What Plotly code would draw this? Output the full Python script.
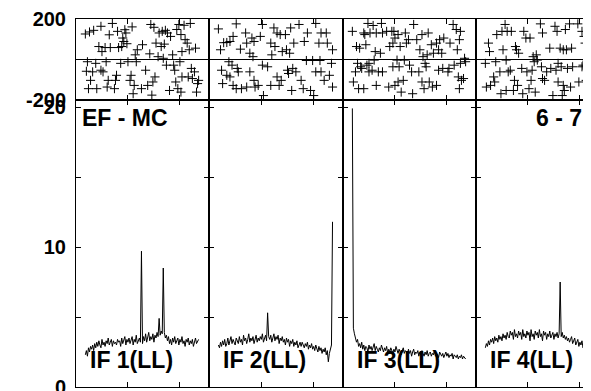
import plotly.graph_objects as go

# ---------------- data ----------------
CHANNELS = list(range(9, 119))  # channel numbers of the amplitude spectra

AMP_IF1 = [
    2.3, 2.6, 2.2, 2.8, 2.5, 2.9, 2.7, 3.0, 2.6, 3.1,
    2.8, 3.2, 2.9, 3.3, 3.0, 2.8, 3.4, 3.0, 3.2, 2.9,
    3.3, 3.1, 3.5, 3.0, 3.2, 3.4, 2.9, 3.3, 3.1, 3.2,
    3.0, 3.4, 3.2, 3.3, 2.9, 3.5, 3.1, 3.3, 3.6, 3.0,
    3.4, 3.2, 3.5, 3.1, 3.3, 3.6, 3.0, 3.4, 3.2, 3.7,
    3.1, 3.3, 3.5, 3.2, 9.7, 3.1, 3.6, 3.3, 3.8, 3.2,
    3.5, 3.9, 3.3, 3.6, 3.4, 3.8, 3.2, 3.7, 3.5, 3.9,
    3.6, 4.9, 3.7, 4.0, 3.8, 8.5, 3.9, 3.5, 3.7, 3.3,
    3.6, 3.1, 3.4, 3.0, 3.5, 3.2, 3.6, 3.1, 3.3, 3.5,
    3.0, 3.4, 3.2, 3.6, 3.1, 3.3, 2.9, 3.4, 3.2, 3.5,
    3.0, 3.3, 3.1, 3.4, 2.9, 3.2, 3.5, 3.1, 3.3, 3.4,
]
AMP_IF2 = [
    3.0, 2.8, 3.2, 2.9, 3.3, 3.0, 3.4, 2.9, 3.1, 3.5,
    3.0, 3.3, 3.6, 3.1, 3.4, 3.2, 3.0, 3.5, 3.3, 3.1,
    3.6, 3.2, 3.4, 3.0, 3.7, 3.3, 3.5, 3.1, 3.4, 3.8,
    3.2, 3.5, 3.3, 3.6, 3.1, 3.4, 3.7, 3.2, 3.5, 3.3,
    3.6, 3.4, 3.8, 3.2, 3.5, 3.7, 3.3, 5.3, 3.6, 3.4,
    3.7, 3.2, 3.5, 3.8, 3.3, 3.6, 3.4, 3.7, 3.1, 3.5,
    3.3, 3.6, 3.2, 3.4, 3.0, 3.5, 3.2, 3.4, 2.9, 3.3,
    3.1, 3.4, 2.9, 3.2, 3.0, 3.3, 2.8, 3.1, 3.2, 2.9,
    3.2, 3.0, 2.8, 3.1, 2.9, 3.2, 2.7, 3.0, 2.8, 3.1,
    2.7, 2.9, 2.6, 3.0, 2.7, 2.5, 2.9, 2.6, 2.8, 2.4,
    2.7, 2.5, 2.8, 2.3, 2.6, 1.8, 2.4, 2.7, 3.0, 11.8,
]
AMP_IF3 = [
    19.9, 4.2, 3.8, 3.5, 3.2, 3.4, 2.9, 3.1, 2.8, 3.2,
    2.7, 3.0, 2.6, 2.9, 2.8, 2.5, 3.0, 2.7, 2.9, 2.6,
    2.8, 3.1, 2.6, 2.9, 2.7, 2.5, 2.8, 2.6, 3.0, 2.7,
    2.5, 2.8, 2.6, 2.9, 2.4, 2.7, 2.5, 2.8, 2.6, 2.4,
    2.7, 2.5, 2.9, 2.6, 2.4, 2.7, 2.5, 2.3, 2.6, 2.8,
    2.4, 2.6, 2.5, 2.3, 2.7, 2.4, 2.6, 2.2, 2.5, 2.7,
    2.3, 2.5, 2.4, 2.6, 2.2, 2.5, 2.3, 2.6, 2.4, 2.2,
    2.5, 2.3, 2.6, 2.2, 2.4, 2.5, 2.2, 2.4, 2.3, 2.6,
    2.2, 2.4, 2.3, 2.1, 2.5, 2.3, 2.2, 2.4, 2.1, 2.3,
    2.5, 2.2, 2.4, 2.1, 2.3, 2.2, 2.4, 2.0, 2.3, 2.2,
    2.1, 2.3, 2.0, 2.2, 2.1, 2.3, 2.0, 2.2, 2.1, 2.0,
]
AMP_IF4 = [
    2.8, 3.1, 2.9, 3.3, 3.0, 3.4, 3.2, 3.5, 3.1, 3.6,
    3.3, 3.5, 3.2, 3.7, 3.4, 3.6, 3.3, 3.8, 3.5, 3.7,
    3.4, 3.9, 3.6, 3.5, 4.0, 3.7, 3.9, 3.4, 4.1, 3.6,
    3.8, 3.5, 4.0, 3.7, 3.9, 3.4, 4.1, 3.6, 3.8, 3.5,
    4.0, 3.7, 3.9, 3.3, 4.1, 3.6, 3.8, 3.4, 4.0, 3.7,
    3.9, 3.5, 4.1, 3.6, 3.8, 3.3, 4.0, 3.7, 3.9, 3.4,
    3.8, 3.6, 4.0, 3.5, 3.7, 3.9, 3.4, 3.8, 3.6, 3.9,
    3.5, 3.8, 7.5, 3.6, 3.9, 3.5, 3.7, 3.4, 3.6, 3.3,
    3.5, 3.2, 3.4, 3.6, 3.1, 3.3, 3.5, 3.0, 3.2, 3.4,
    2.9, 3.2, 3.0, 3.3, 2.8, 3.1, 2.9, 3.2, 2.7, 3.0,
    2.8, 3.1, 2.9, 2.7, 3.0, 2.8, 2.6, 2.9, 2.7, 2.8,
]

PH_IF1_CH = [9, 13, 17, 24, 35, 32, 40, 47, 48, 54, 45, 46, 22, 28, 33, 41, 44, 25, 49, 64,
             59, 57, 72, 75, 80, 83, 86, 88, 91, 85, 77, 82, 71, 99, 104, 110, 97, 101, 105, 107,
             109, 115, 102, 93, 79, 84,
             11, 19, 29, 10, 16, 24, 26, 14, 12, 20, 30, 37, 38, 31, 39, 43, 50, 58, 53, 52,
             56, 55, 63, 67, 69, 74, 76, 73, 87, 94, 100, 95, 102, 96, 98, 101, 90, 111, 114, 112,
             118, 117, 116, 108]
PH_IF1 = [126, 136, 144, 164, 178, 122, 139, 147, 131, 161, 106, 89, 64, 59, 59, 59, 64, 39, 78, 73,
          48, 23, 173, 159, 131, 139, 144, 131, 114, 76, 81, 64, 28, 173, 169, 178, 148, 123, 98, 81,
          48, 56, 39, 23, 14, 6,
          -11, -19, -11, -58, -61, -53, -61, -103, -144, -144, -136, -144, -103, -103, -78, -19, -11, -11, -78, -103,
          -128, -169, -144, -53, -128, -111, -86, -176, -28, -28, -11, -53, -86, -111, -144, -161, -153, -44, -61, -94,
          -103, -119, -161, -86]

PH_IF2_CH = [9, 26, 23, 14, 17, 20, 11, 30, 35, 36, 41, 43, 39, 42, 51, 49, 59, 62, 65, 68,
             63, 73, 78, 86, 81, 74, 77, 91, 94, 102, 107, 112, 105, 113, 118, 60, 70,
             19, 22, 12, 17, 20, 27, 28, 13, 23, 26, 31, 39, 43, 36, 44, 47, 51, 56, 52, 59,
             67, 69, 65, 75, 76, 80, 83, 79, 88, 90, 97, 100, 93, 99, 106, 102, 107, 115, 117,
             118, 110]
PH_IF2 = [151, 176, 114, 83, 84, 89, 48, 51, 131, 81, 106, 89, 31, 14, 173, 114, 81, 156, 131, 123,
          64, 123, 156, 173, 81, 48, 31, 89, 131, 178, 131, 131, 81, 81, 48, 23, 39,
          -11, -28, -53, -78, -86, -44, -61, -119, -128, -144, -144, -61, -103, -136, -136, -128, -28, -36, -178, -128,
          -128, -103, -86, -53, -69, -44, -61, -153, -103, -144, -153, -178, -5, -5, -5, -61, -61, -78, -19,
          -136, -103]

PH_IF3_CH = [9, 24, 29, 37, 20, 21, 26, 32, 38, 42, 13, 16, 22, 31, 36, 47, 50, 48, 45,
             49, 53, 60, 68, 76, 82, 63, 71, 55, 61, 85, 90, 93, 97, 74, 92, 95, 106, 109, 113,
             103, 110, 112, 77, 81, 87, 117,
             14, 17, 23, 25, 30, 12, 18, 28, 25, 34, 38, 10, 20, 15, 32, 44, 50,
             118, 52, 59, 48, 54, 64, 66, 73, 79, 80, 92, 96, 102, 107, 113, 101, 111, 116,
             53, 58, 76, 83, 56, 67, 78, 86, 90, 114, 112]
PH_IF3 = [139, 178, 168, 178, 131, 123, 131, 131, 131, 139, 64, 56, 73, 39, 31, 139, 106, 81, 64,
          139, 123, 131, 173, 123, 131, 98, 98, 64, 81, 73, 81, 98, 106, 48, 48, 31, 173, 148, 139,
          81, 48, 98, 14, 23, 31, 6,
          -19, -36, -28, -19, -3, -61, -44, -53, -61, -61, -61, -111, -144, -144, -128, -136, -128,
          -11, -3, -3, -36, -36, -28, -61, -61, -19, -36, -53, -44, -44, -28, -19, -61, -86, -94,
          -111, -103, -111, -111, -161, -169, -144, -136, -128, -103, -144]

PH_IF4_CH = [12, 13, 20, 25, 28, 30, 34, 26, 39, 41, 46, 48, 52, 62, 64, 71, 81, 84, 87, 92,
             76, 78, 86, 90, 98, 102, 104, 107, 105, 38, 58, 55,
             9, 19, 23, 31, 33, 44, 49, 54, 29, 56, 59, 63, 68, 72, 77, 79, 82, 88, 93, 102, 103,
             17, 18, 14, 10, 37, 40, 53, 64, 66, 24, 29, 36, 45, 51, 57, 74, 83, 85, 91, 99, 106,
             79, 84]
PH_IF4 = [81, 39, 123, 139, 173, 139, 139, 48, 48, 31, 139, 106, 106, 176, 131, 56, 56, 48, 48, 56,
          164, 139, 148, 176, 176, 139, 114, 114, 81, 64, 23, 14,
          -19, -11, -61, -61, -53, -44, -61, -53, -3, -11, -3, -36, -61, -44, -53, -19, -36, -44, -36, -36, -28,
          -86, -111, -128, -136, -103, -128, -103, -94, -103, -169, -153, -153, -169, -144, -161, -178, -178, -153, -136, -111, -103,
          -111, -128]

AMP_SERIES = [AMP_IF1, AMP_IF2, AMP_IF3, AMP_IF4]
PH_CH = [PH_IF1_CH, PH_IF2_CH, PH_IF3_CH, PH_IF4_CH]
PH_VAL = [PH_IF1, PH_IF2, PH_IF3, PH_IF4]
IF_LABELS = ["IF 1(LL)", "IF 2(LL)", "IF 3(LL)", "IF 4(LL)"]
BASELINE_LABEL = "EF - MC"
TIME_LABEL = "6 - 7"
PHASE_TICKS = [-200, 200]
PHASE_TICKTEXT = ["-200", "200"]
AMP_TICKS = [0, 5, 10, 15, 20]
AMP_TICKTEXT = ["0", "", "10", "", "20"]
CH_TICKS = [50, 100]

# ---------------- layout geometry (screen pixels) ----------------
SCREEN_W, SCREEN_H = 591, 391
BODY = 8                               # default page margin around the plot div
W, H = SCREEN_W - BODY, SCREEN_H - BODY
LEFT_PX, TOP_PX, BOTTOM_PX = 76, 19, 387
PANEL_PX = [76, 209, 343, 476, 609]   # last panel runs past the page edge
SPLIT_PX = 100                        # boundary between phase and amplitude boxes
CH_SPAN = 128
FONT = "Liberation Sans, Arial, Helvetica, sans-serif"

ML = LEFT_PX - BODY
MT = TOP_PX - BODY
MB = SCREEN_H - BOTTOM_PX
PW = SCREEN_W - LEFT_PX
PH = BOTTOM_PX - TOP_PX


def fx(px):
    return (px - LEFT_PX) / PW


def fy(py):
    return (BOTTOM_PX - py) / PH


split = fy(SPLIT_PX)

fig = go.Figure()
layout = dict(
    width=W, height=H,
    margin=dict(l=ML, r=0, t=MT, b=MB, pad=0, autoexpand=False),
    paper_bgcolor="white", plot_bgcolor="white",
    showlegend=False,
    font=dict(family=FONT, color="black"),
)

common = dict(showline=True, linecolor="black", linewidth=1, ticks="inside", ticklen=5,
              tickcolor="black", tickwidth=1, showgrid=False, fixedrange=True, automargin=False)
tickfont = dict(family=FONT, size=20, color="black", weight="bold")

annotations = []
for i in range(4):
    px0 = PANEL_PX[i]
    px1_full = PANEL_PX[i + 1]
    px1 = min(px1_full, SCREEN_W)
    dom = [fx(px0), min(1.0, fx(px1))]
    xmax = CH_SPAN * (px1 - px0) / (px1_full - px0)
    last = (i == 3)
    pn = 2 * i + 1
    an = 2 * i + 2
    for n in (pn, an):
        xname = "xaxis" if n == 1 else f"xaxis{n}"
        yname = "yaxis" if n == 1 else f"yaxis{n}"
        xa = dict(common, domain=dom, range=[0, xmax], tickvals=CH_TICKS,
                  showticklabels=False, zeroline=False, mirror="ticks",
                  anchor="y" if n == 1 else f"y{n}")
        ya = dict(common, anchor="x" if n == 1 else f"x{n}",
                  mirror=False if last else "ticks",
                  showticklabels=(i == 0), tickfont=tickfont, ticklabelstandoff=5,
                  ticklabeloverflow="allow")
        if n == pn:
            ya.update(domain=[split, 1], range=[-200, 200], tickvals=PHASE_TICKS,
                      ticktext=PHASE_TICKTEXT, zeroline=True, zerolinecolor="black",
                      zerolinewidth=1)
        else:
            ya.update(domain=[0, split], range=[0, 20.5], tickvals=AMP_TICKS,
                      ticktext=AMP_TICKTEXT, zeroline=False)
        layout[xname] = xa
        layout[yname] = ya

    xref_p = "x" if pn == 1 else f"x{pn}"
    yref_p = "y" if pn == 1 else f"y{pn}"
    fig.add_trace(go.Scatter(
        x=PH_CH[i], y=PH_VAL[i], mode="markers", xaxis=xref_p, yaxis=yref_p,
        marker=dict(symbol="cross-thin", size=6.5, color="black",
                    line=dict(color="black", width=1)),
        cliponaxis=True, hoverinfo="skip"))
    fig.add_trace(go.Scatter(
        x=CHANNELS, y=AMP_SERIES[i], mode="lines", xaxis=f"x{an}", yaxis=f"y{an}",
        line=dict(color="black", width=1), hoverinfo="skip"))

    annotations.append(dict(
        text=f"<b>{IF_LABELS[i]}</b>", xref="paper", yref="paper",
        x=fx(px0 + 12), y=fy(360), xanchor="left", yanchor="middle", showarrow=False,
        font=dict(family=FONT, size=23, color="black")))

annotations.append(dict(
    text=f"<b>{BASELINE_LABEL}</b>", xref="paper", yref="paper",
    x=fx(80), y=fy(118), xanchor="left", yanchor="middle", showarrow=False,
    font=dict(family=FONT, size=23, color="black")))
annotations.append(dict(
    text=f"<b>{TIME_LABEL}</b>", xref="paper", yref="paper",
    x=fx(584), y=fy(118), xanchor="right", yanchor="middle", showarrow=False,
    font=dict(family=FONT, size=23, color="black")))

layout["annotations"] = annotations
fig.update_layout(**layout)
fig.write_html("out.html")
